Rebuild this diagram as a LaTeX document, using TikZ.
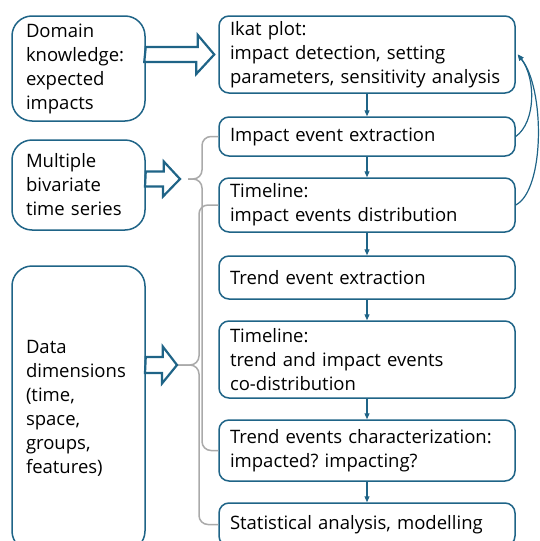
\documentclass[tikz,border=0pt]{standalone}
\usepackage{fontspec}
\setmainfont{Open Sans}
\frenchspacing
\usetikzlibrary{calc,arrows.meta}
\definecolor{boxblue}{RGB}{31,100,135}
\definecolor{bracegray}{RGB}{170,170,170}
\begin{document}
\begin{tikzpicture}[x=1pt,y=-1pt,
        flowbox/.style={draw=boxblue,line width=1.5pt,rounded corners=10pt,fill=white,
            text width=274pt,inner xsep=11pt,inner ysep=0pt,align=left,
            font=\fontsize{18.5}{24}\selectfont},
        sidebox/.style={draw=boxblue,line width=1.5pt,rounded corners=20pt,fill=white,
            text width=105pt,inner xsep=14pt,inner ysep=0pt,align=left,
            font=\fontsize{18.5}{24}\selectfont},
        flow/.style={draw=boxblue,line width=1.2pt,-{Triangle[length=6pt,width=5pt]}},
        fat/.style={draw=boxblue,line width=2.2pt,fill=white,line join=miter},
        brace/.style={draw=bracegray,line width=1.5pt,rounded corners=9pt}]
\useasboundingbox (0,0) rectangle (539,541);

% main chain
\node[flowbox,minimum height=77pt] (ikat) at (367,54.5) {Ikat plot:\\impact detection, setting\\parameters, sensitivity analysis};
\node[flowbox,minimum height=39pt] (extract) at (367,136.5) {Impact event extraction};
\node[flowbox,minimum height=54pt] (tl1) at (367,205) {Timeline:\\impact events distribution};
\node[flowbox,minimum height=43pt] (trend) at (367,277.5) {Trend event extraction};
\node[flowbox,minimum height=77pt] (tl2) at (367,359.5) {Timeline:\\trend and impact events\\co-distribution};
\node[flowbox,minimum height=61pt] (charac) at (367,450.5) {Trend events characterization:\\impacted? impacting?};
\node[flowbox,minimum height=43pt] (stat) at (367,524.5) {Statistical analysis, modelling};

% inputs
\node[sidebox,minimum height=105pt] (domain) at (78.5,68.5) {Domain\\knowledge:\\expected\\impacts};
\node[sidebox,minimum height=90pt] (series) at (78.5,185) {Multiple\\bivariate\\time series};
\node[sidebox,minimum height=285pt] (dims) at (78.5,408.5) {Data\\dimensions\\(time,\\space,\\groups,\\features)};

\draw[flow] (ikat.south) -- (extract.north);
\draw[flow] (extract.south) -- (tl1.north);
\draw[flow] (tl1.south) -- (trend.north);
\draw[flow] (trend.south) -- (tl2.north);
\draw[flow] (tl2.south) -- (charac.north);
\draw[flow] (charac.south) -- (stat.north);

% feedback
\coordinate (ret) at ([xshift=2pt]ikat.east);
\draw[flow] (extract.east) .. controls (536,122) and (536,78) .. (ret);
\draw[flow] (tl1.east) .. controls (545,190) and (545,88) .. (ret);

% braces
\coordinate (b1) at (188,179);
\coordinate (b1v) at (202,179);
\coordinate (b2) at (178,365);
\coordinate (b2v) at (199,365);
\draw[brace] (extract.west) -| (b1v) -- (b1);
\draw[brace] (b1) -- (b1v) |- (charac.west);
\draw[brace] (tl1.west) -| (b2v) -- (b2);
\draw[brace] (b2) -- (b2v) |- (stat.west);

% block arrows
\coordinate (tip1) at ([xshift=-4pt]ikat.west);
\coordinate (tip2) at ([xshift=-8pt]b1);
\coordinate (tip3) at ([xshift=-1pt]b2);
\draw[fat] (domain.east |- tip1) ++(0,-7.5) -- ++(52,0) -- ++(0,-12) -- (tip1)
    -- ++(-18,19.5) -- ++(0,-12) -- ++(-52,0) -- cycle;
\draw[fat] (series.east |- tip2) ++(0,-7.5) -- ++(18,0) -- ++(0,-10) -- (tip2)
    -- ++(-17,17.5) -- ++(0,-10) -- ++(-18,0) -- cycle;
\draw[fat] (dims.east |- tip3) ++(0,-8) -- ++(17,0) -- ++(0,-10.5) -- (tip3)
    -- ++(-15,18.5) -- ++(0,-10.5) -- ++(-17,0) -- cycle;
\end{tikzpicture}
\end{document}
